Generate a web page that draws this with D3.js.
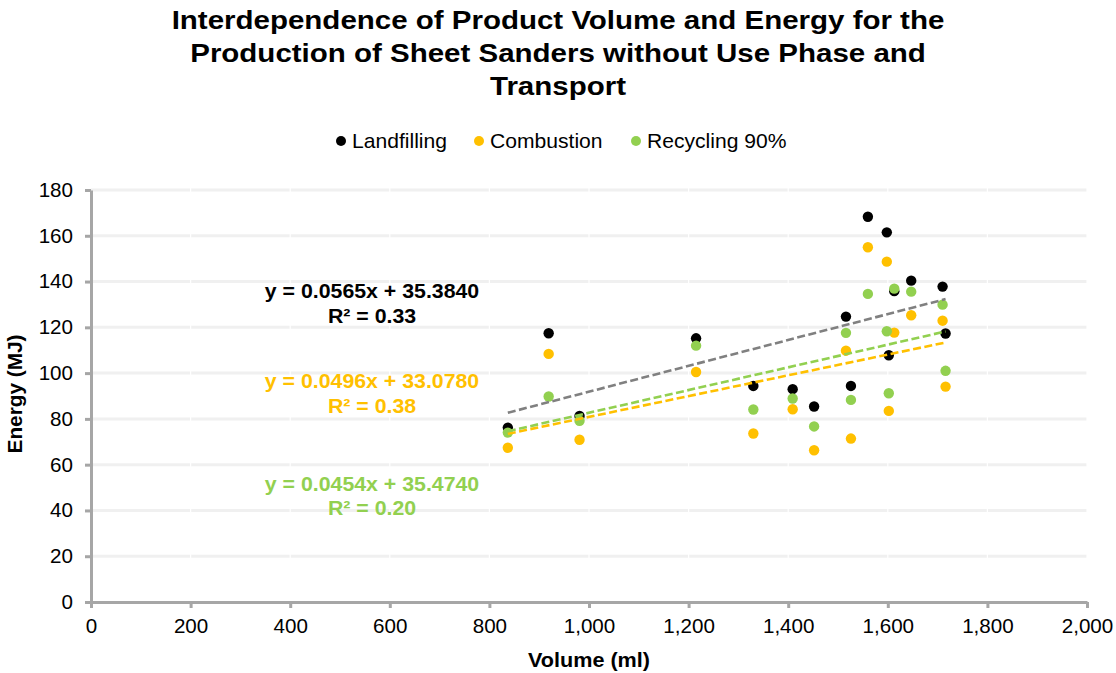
<!DOCTYPE html>
<html>
<head>
<meta charset="utf-8">
<script src="https://cdn.jsdelivr.net/npm/d3@7"></script>
<style>
  html, body { margin: 0; padding: 0; background: #fff; }
  svg { display: block; font-family: "Liberation Sans", Arial, sans-serif; }
</style>
</head>
<body>
<svg id="chart" width="1116" height="673"></svg>
<script>
// ---------------- data ----------------
const titleLines = ["Interdependence of Product Volume and Energy for the",
                    "Production of Sheet Sanders without Use Phase and",
                    "Transport"];
const seriesNames = ["Landfilling", "Combustion", "Recycling 90%"];
const seriesColors = ["#000000", "#ffc000", "#92d050"];
const trendColors = ["#808080", "#ffc000", "#92d050"];

const volume = [837, 919, 981, 1215, 1330, 1409, 1452, 1516, 1526, 1560, 1598, 1602, 1613, 1647, 1710, 1716];
const landfilling = [76.2, 117.4, 81.3, 115.2, 94.4, 93.0, 85.4, 124.7, 94.4, 168.3, 161.5, 107.8, 135.8, 140.4, 137.8, 117.3];
const combustion  = [67.4, 108.4, 70.9, 100.5, 73.6, 84.2, 66.3, 109.8, 71.4, 155.0, 148.7, 83.5, 117.7, 125.3, 122.9, 94.1];
const recycling   = [74.0, 89.8, 79.2, 112.0, 84.1, 88.9, 76.7, 117.6, 88.3, 134.6, 118.3, 91.2, 136.9, 135.6, 129.9, 101.0];

// trend lines as drawn (slope, intercept) per series
const trendSlopes = [0.0565, 0.0454, 0.0496];
const trendIntercepts = [35.384, 35.474, 33.078];

// equation labels as printed on the chart
const eqLines = ["y = 0.0565x + 35.3840", "y = 0.0496x + 33.0780", "y = 0.0454x + 35.4740"];
const r2Lines = ["R² = 0.33", "R² = 0.38", "R² = 0.20"];
const eqColors = ["#000000", "#ffc000", "#92d050"];

const xTicks = [0, 200, 400, 600, 800, 1000, 1200, 1400, 1600, 1800, 2000];
const yTicks = [0, 20, 40, 60, 80, 100, 120, 140, 160, 180];
const xTitle = "Volume (ml)";
const yTitle = "Energy (MJ)";

// ---------------- chart ----------------
const values = [landfilling, combustion, recycling];
const svg = d3.select("#chart");
const x = d3.scaleLinear().domain([0, 2000]).range([91, 1087]);
const y = d3.scaleLinear().domain([0, 180]).range([602, 190]);

// text helper: horizontally widened text (the source rendering is slightly stretched)
function label(parent, px, py, str, o) {
  const t = parent.append("text")
    .attr("transform", `translate(${px},${py})${o.rotate ? " rotate(" + o.rotate + ")" : ""} scale(${o.sx || 1},1)`)
    .attr("text-anchor", o.anchor || "start")
    .attr("font-size", o.size || 20)
    .attr("font-weight", o.weight || "normal")
    .attr("fill", o.fill || "#000")
    .text(str);
  return t;
}

// title
titleLines.forEach((t, i) => label(svg, 558, 28.5 + i * 33.4, t, {size: 25, weight: "bold", anchor: "middle", sx: 1.18}));

// legend
const legendX = [341, 479, 636];
const lg = svg.append("g").selectAll("g").data(seriesNames).join("g")
  .attr("transform", (d, i) => `translate(${legendX[i]},141)`);
lg.append("circle").attr("r", 5).attr("fill", (d, i) => seriesColors[i]);
lg.each(function(d) { label(d3.select(this), 11, 6.8, d, {size: 20, sx: 1.055}); });

// gridlines
svg.append("g").selectAll("line").data(yTicks.filter(t => t > 0)).join("line")
  .attr("x1", x(0)).attr("x2", x(2000))
  .attr("y1", d => y(d)).attr("y2", d => y(d))
  .attr("stroke", "#f0f0f0").attr("stroke-width", 3);
// faint white vertical separators (as in the source rendering)
svg.append("g").selectAll("line").data(xTicks.filter(t => t > 0)).join("line")
  .attr("x1", d => x(d)).attr("x2", d => x(d))
  .attr("y1", y(180) - 2).attr("y2", y(0) - 2)
  .attr("stroke", "#ffffff").attr("stroke-width", 1.2);

// axes
const xAxis = svg.append("g").attr("transform", `translate(0,${y(0)})`)
  .call(d3.axisBottom(x).tickValues(xTicks).tickFormat(d3.format(",")).tickSize(6).tickSizeOuter(0).tickPadding(10.5));
const yAxis = svg.append("g").attr("transform", `translate(${x(0)},0)`)
  .call(d3.axisLeft(y).tickValues(yTicks).tickSize(6).tickSizeOuter(0).tickPadding(12));
const tickSx = 1.03;
[xAxis, yAxis].forEach(a => {
  a.select(".domain").attr("stroke", "#a6a6a6").attr("stroke-width", 3);
  a.selectAll(".tick line").attr("stroke", "#a6a6a6").attr("stroke-width", 3);
  a.selectAll(".tick text").attr("font-size", 20).attr("fill", "#000")
    .attr("font-family", "Liberation Sans, Arial, sans-serif")
    .each(function() {
      const t = d3.select(this);
      const ox = +t.attr("x") || 0;
      t.attr("x", ox / tickSx).attr("transform", `scale(${tickSx},1)`);
    });
});

// axis titles
label(svg, 589, 667, xTitle, {size: 20, weight: "bold", anchor: "middle", sx: 1.08});
label(svg, 22, 394, yTitle, {size: 20, weight: "bold", anchor: "middle", sx: 1.04, rotate: -90});

// points
values.forEach((vals, s) => {
  svg.append("g").selectAll("circle").data(vals).join("circle")
    .attr("cx", (d, i) => x(volume[i]))
    .attr("cy", d => y(d))
    .attr("r", 5.2)
    .attr("fill", seriesColors[s]);
});

// trend lines
const xMin = d3.min(volume), xMax = d3.max(volume);
trendSlopes.forEach((m, s) => {
  const b = trendIntercepts[s];
  svg.append("line")
    .attr("x1", x(xMin)).attr("y1", y(m * xMin + b))
    .attr("x2", x(xMax)).attr("y2", y(m * xMax + b))
    .attr("stroke", trendColors[s]).attr("stroke-width", 2.6)
    .attr("stroke-dasharray", "8,3.5");
});

// equation labels
const eqY = [298.3, 388.3, 490.7];
eqLines.forEach((t, i) => {
  label(svg, 372, eqY[i], t, {size: 20, weight: "bold", anchor: "middle", sx: 1.065, fill: eqColors[i]});
  label(svg, 372, eqY[i] + 24.5, r2Lines[i], {size: 20, weight: "bold", anchor: "middle", sx: 1.065, fill: eqColors[i]});
});
</script>
</body>
</html>
